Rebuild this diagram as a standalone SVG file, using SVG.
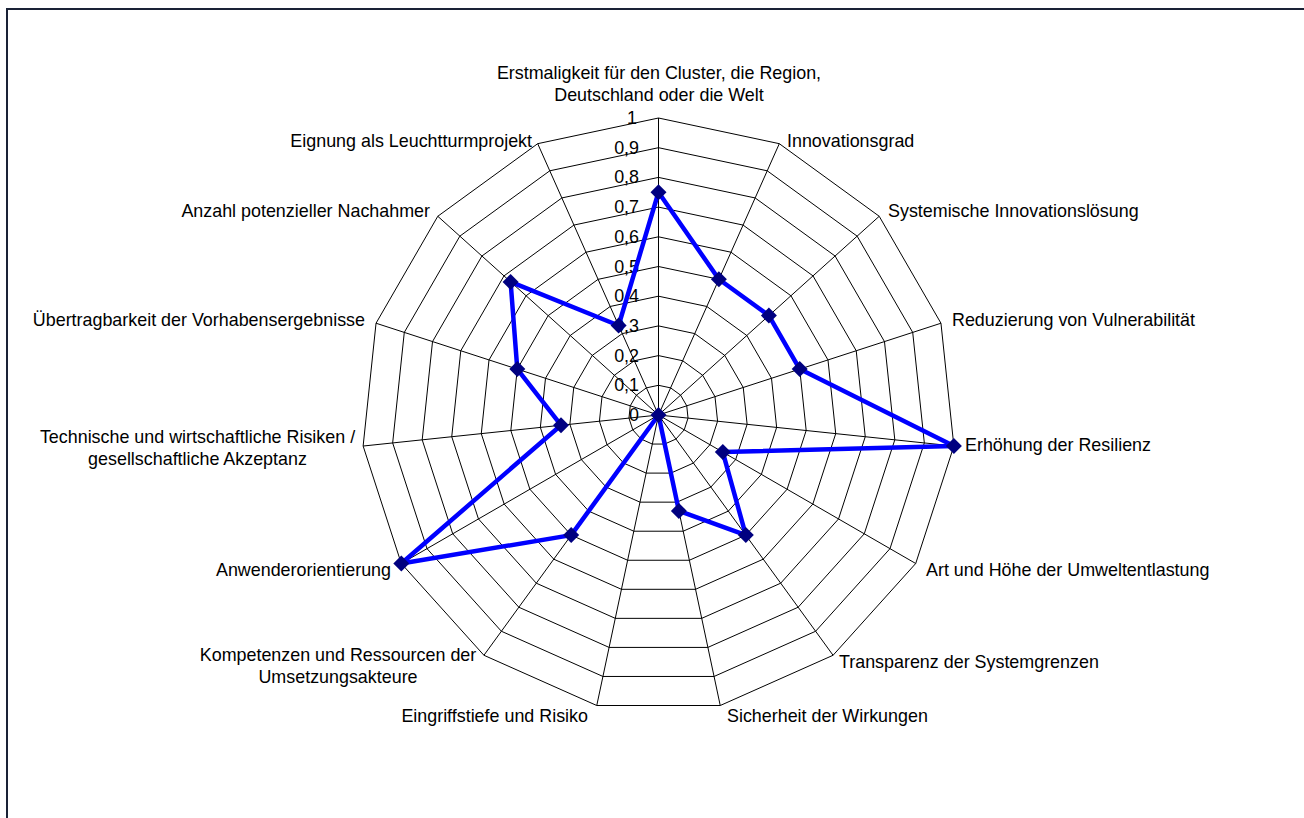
<svg xmlns="http://www.w3.org/2000/svg" xmlns:xlink="http://www.w3.org/1999/xlink" width="1304" height="818" viewBox="0 0 1304 818">
<style>
text{font-family:"Liberation Sans",Arial,sans-serif;font-size:17.9px;fill:#000}
.grid{fill:none;stroke:#000;stroke-width:1;vector-effect:non-scaling-stroke}
.series{fill:none;stroke:#0000ff;stroke-width:4.5;stroke-linejoin:round}
.mk{fill:#000080}
.e{text-anchor:end}.m{text-anchor:middle}
</style>
<defs>
<polygon id="ring" class="grid" points="0,-100 40.6737,-91.3545 74.3145,-66.9131 95.1057,-30.9017 99.4522,10.4528 86.6025,50 58.7785,80.9017 20.7912,97.8148 -20.7912,97.8148 -58.7785,80.9017 -86.6025,50 -99.4522,10.4528 -95.1057,-30.9017 -74.3145,-66.9131 -40.6737,-91.3545"/>
<path id="dia" class="mk" d="M0,-8L8,0L0,8L-8,0Z"/>
</defs>
<rect x="7" y="9" width="1400" height="900" fill="#fff" stroke="#1a2236" stroke-width="2"/>
<g id="grid" transform="translate(658.5,415)">
<use xlink:href="#ring" transform="scale(0.297)"/>
<use xlink:href="#ring" transform="scale(0.594)"/>
<use xlink:href="#ring" transform="scale(0.891)"/>
<use xlink:href="#ring" transform="scale(1.188)"/>
<use xlink:href="#ring" transform="scale(1.485)"/>
<use xlink:href="#ring" transform="scale(1.782)"/>
<use xlink:href="#ring" transform="scale(2.079)"/>
<use xlink:href="#ring" transform="scale(2.376)"/>
<use xlink:href="#ring" transform="scale(2.673)"/>
<use xlink:href="#ring" transform="scale(2.97)"/>
<path class="grid" transform="scale(2.97)" d="M0,0L0,-100M0,0L40.6737,-91.3545M0,0L74.3145,-66.9131M0,0L95.1057,-30.9017M0,0L99.4522,10.4528M0,0L86.6025,50M0,0L58.7785,80.9017M0,0L20.7912,97.8148M0,0L-20.7912,97.8148M0,0L-58.7785,80.9017M0,0L-86.6025,50M0,0L-99.4522,10.4528M0,0L-95.1057,-30.9017M0,0L-74.3145,-66.9131M0,0L-40.6737,-91.3545"/>
</g>
<g id="ticks" class="e">
<text x="639" y="421" class="e">0</text>
<text x="639" y="391.3" class="e">0,1</text>
<text x="639" y="361.6" class="e">0,2</text>
<text x="639" y="331.9" class="e">0,3</text>
<text x="639" y="302.2" class="e">0,4</text>
<text x="639" y="272.5" class="e">0,5</text>
<text x="639" y="242.8" class="e">0,6</text>
<text x="639" y="213.1" class="e">0,7</text>
<text x="639" y="183.4" class="e">0,8</text>
<text x="639" y="153.7" class="e">0,9</text>
<text x="637" y="124" class="e">1</text>
</g>
<g id="series">
<polygon class="series" points="658.5,192.25 718.9,279.3 768.9,315.6 799.7,369.1 953.9,446 722.8,452.1 745.8,535.1 678.9,510.9 658.5,415 571.2,535.1 401.3,563.5 561,425.2 517.3,369.1 510.6,281.9 618.6,325.5"/>
<use xlink:href="#dia" x="658.5" y="192.25"/>
<use xlink:href="#dia" x="718.9" y="279.3"/>
<use xlink:href="#dia" x="768.9" y="315.6"/>
<use xlink:href="#dia" x="799.7" y="369.1"/>
<use xlink:href="#dia" x="953.9" y="446"/>
<use xlink:href="#dia" x="722.8" y="452.1"/>
<use xlink:href="#dia" x="745.8" y="535.1"/>
<use xlink:href="#dia" x="678.9" y="510.9"/>
<use xlink:href="#dia" x="658.5" y="415"/>
<use xlink:href="#dia" x="571.2" y="535.1"/>
<use xlink:href="#dia" x="401.3" y="563.5"/>
<use xlink:href="#dia" x="561" y="425.2"/>
<use xlink:href="#dia" x="517.3" y="369.1"/>
<use xlink:href="#dia" x="510.6" y="281.9"/>
<use xlink:href="#dia" x="618.6" y="325.5"/>
</g>
<g id="labels">
<g id="n0"><text x="659" y="79" class="m">Erstmaligkeit für den Cluster, die Region,</text><text x="659" y="101" class="m">Deutschland oder die Welt</text></g>
<g id="n1"><text x="787" y="147">Innovationsgrad</text></g>
<g id="n2"><text x="888" y="217">Systemische Innovationslösung</text></g>
<g id="n3"><text x="952" y="326">Reduzierung von Vulnerabilität</text></g>
<g id="n4"><text x="965" y="451">Erhöhung der Resilienz</text></g>
<g id="n5"><text x="926" y="576">Art und Höhe der Umweltentlastung</text></g>
<g id="n6"><text x="839" y="668">Transparenz der Systemgrenzen</text></g>
<g id="n7"><text x="727" y="722">Sicherheit der Wirkungen</text></g>
<g id="n8"><text x="588" y="722" class="e">Eingriffstiefe und Risiko</text></g>
<g id="n9"><text x="338" y="661" class="m">Kompetenzen und Ressourcen der</text><text x="338" y="683" class="m">Umsetzungsakteure</text></g>
<g id="n10"><text x="391" y="576" class="e">Anwenderorientierung</text></g>
<g id="n11"><text x="197.5" y="443" class="m">Technische und wirtschaftliche Risiken /</text><text x="197.5" y="465" class="m">gesellschaftliche Akzeptanz</text></g>
<g id="n12"><text x="365" y="326" class="e">Übertragbarkeit der Vorhabensergebnisse</text></g>
<g id="n13"><text x="430" y="217" class="e">Anzahl potenzieller Nachahmer</text></g>
<g id="n14"><text x="532" y="147" class="e">Eignung als Leuchtturmprojekt</text></g>
</g>
</svg>
